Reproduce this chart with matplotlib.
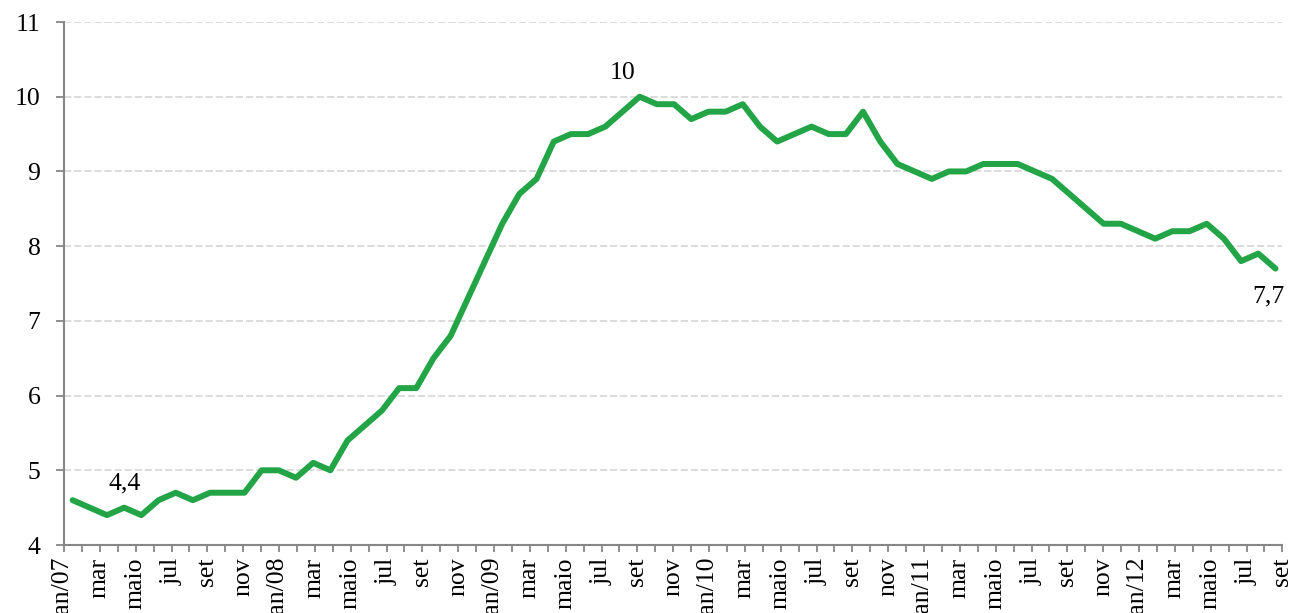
import numpy as np
import matplotlib
matplotlib.use('Agg')
import matplotlib.pyplot as plt

# série mensal (%), jan/07 em diante
valores = [
    4.6, 4.5, 4.4, 4.5, 4.4, 4.6, 4.7, 4.6, 4.7, 4.7, 4.7, 5.0,
    5.0, 4.9, 5.1, 5.0, 5.4, 5.6, 5.8, 6.1, 6.1, 6.5, 6.8, 7.3,
    7.8, 8.3, 8.7, 8.9, 9.4, 9.5, 9.5, 9.6, 9.8, 10.0, 9.9, 9.9,
    9.7, 9.8, 9.8, 9.9, 9.6, 9.4, 9.5, 9.6, 9.5, 9.5, 9.8, 9.4,
    9.1, 9.0, 8.9, 9.0, 9.0, 9.1, 9.1, 9.1, 9.0, 8.9, 8.7, 8.5,
    8.3, 8.3, 8.2, 8.1, 8.2, 8.2, 8.3, 8.1, 7.8, 7.9, 7.7,
]

rotulos_x = [
    'jan/07', 'mar', 'maio', 'jul', 'set', 'nov',
    'jan/08', 'mar', 'maio', 'jul', 'set', 'nov',
    'jan/09', 'mar', 'maio', 'jul', 'set', 'nov',
    'jan/10', 'mar', 'maio', 'jul', 'set', 'nov',
    'jan/11', 'mar', 'maio', 'jul', 'set', 'nov',
    'jan/12', 'mar', 'maio', 'jul', 'set',
]

# rótulos de destaque: (texto, índice do mês, altura)
destaques = [('4,4', 3, 4.82), ('10', 32, 10.32), ('7,7', 69.6, 7.33)]

y_ticks = [4, 5, 6, 7, 8, 9, 10, 11]

plt.rcParams['font.family'] = ['Liberation Serif', 'DejaVu Serif']

fig = plt.figure(figsize=(12.91, 6.13), dpi=100)
ax = fig.add_axes([0.0496, 0.1109, 0.9437, 0.8532])

x = np.arange(len(valores))
ax.plot(x, valores, color='#23A547', linewidth=4.3,
        solid_joinstyle='round', solid_capstyle='round', zorder=3)

for texto, xi, yi in destaques:
    ax.text(xi, yi, texto, fontsize=18.5, ha='center', va='center', color='black')

ax.set_ylim(4, 11)
ax.set_yticks(y_ticks)
ax.set_xlim(-0.5, 70.4)

# marcas do eixo x: uma por mês do rótulo, nomes a cada dois meses
n_marcas = 2 * len(rotulos_x) - 1
pos_marcas = np.linspace(-0.5, 70.4, n_marcas)
nomes = []
for i in range(n_marcas):
    nomes.append(rotulos_x[i // 2] if i % 2 == 0 else '')
ax.set_xticks(pos_marcas)
ax.set_xticklabels(nomes, rotation=90, fontsize=18.5)

ax.tick_params(axis='x', direction='out', length=5, width=1.3, color='#868686', pad=4)
ax.tick_params(axis='y', direction='out', length=6, width=1.3, color='#868686', pad=11,
               labelsize=18.5)

ax.yaxis.grid(True, linestyle=(0, (4, 1.6)), color='#d9d9d9', linewidth=1.3)
ax.set_axisbelow(True)

for lado in ['top', 'right']:
    ax.spines[lado].set_visible(False)
for lado in ['left', 'bottom']:
    ax.spines[lado].set_color('#868686')
    ax.spines[lado].set_linewidth(1.5)

fig.savefig('out.png', dpi=100)
